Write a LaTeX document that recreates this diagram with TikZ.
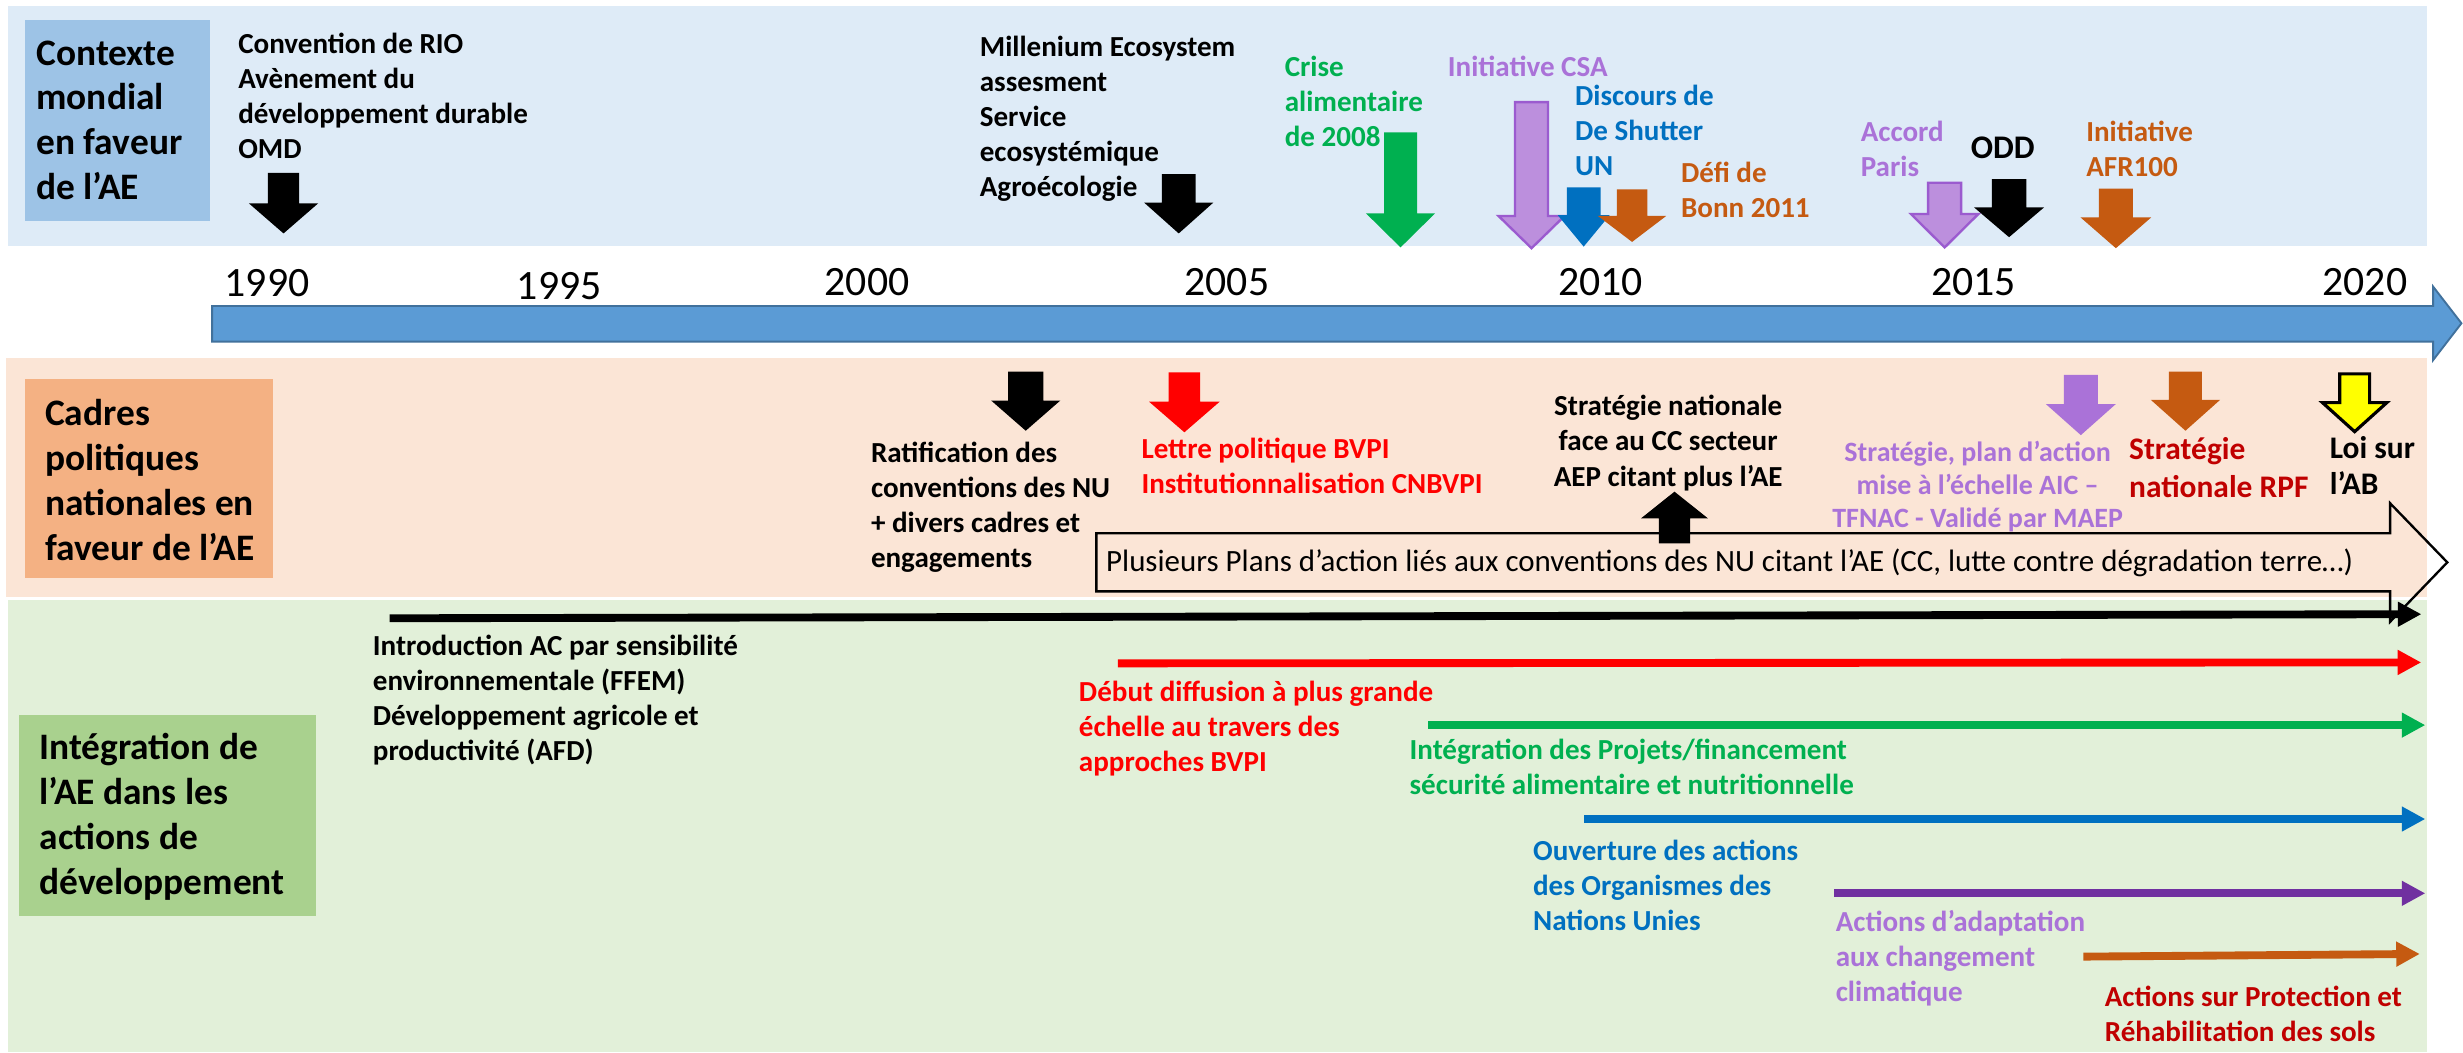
\documentclass[tikz,border=0pt]{standalone}
\usepackage{fontspec}
\setmainfont{Carlito}
\usetikzlibrary{arrows.meta}
\definecolor{bandA}{HTML}{DEEBF7}
\definecolor{bandB}{HTML}{FBE5D6}
\definecolor{bandC}{HTML}{E2F0D9}
\definecolor{boxA}{HTML}{9DC3E6}
\definecolor{boxB}{HTML}{F4B183}
\definecolor{boxC}{HTML}{A9D18E}
\definecolor{tlfill}{HTML}{5B9BD5}
\definecolor{tldraw}{HTML}{41719C}
\definecolor{cgreen}{HTML}{00B050}
\definecolor{clav}{HTML}{AA72D8}
\definecolor{clavfill}{HTML}{BC8FDD}
\definecolor{clavdraw}{HTML}{9B5BCF}
\definecolor{cblue}{HTML}{0070C0}
\definecolor{corange}{HTML}{C55A11}
\definecolor{cred}{HTML}{FF0000}
\definecolor{cdred}{HTML}{C00000}
\definecolor{cpurple}{HTML}{7030A0}
\definecolor{cyellow}{HTML}{FFFF00}
% block arrow: #1 style, #2 centre x, #3 shaft end, #4 shaft half width, #5 shoulder, #6 head half width, #7 tip
\newcommand\blkarrow[7]{\path[#1] ({#2-#4},#3) -- ({#2+#4},#3) -- ({#2+#4},#5) -- ({#2+#6},#5) -- (#2,#7) -- ({#2-#6},#5) -- ({#2-#4},#5) -- cycle;}
\tikzset{
  txt/.style={inner sep=0pt, anchor=west, align=left, font=\bfseries\fontsize{18.5}{22.3}\selectfont},
  ctxt/.style={inner sep=0pt, anchor=center, align=center, font=\bfseries\fontsize{18.5}{22.5}\selectfont},
  lbl/.style={inner sep=0pt, anchor=west, align=left, font=\bfseries\fontsize{23.8}{28.5}\selectfont},
  yr/.style={inner sep=0pt, anchor=center, font=\fontsize{26.6}{30}\selectfont},
  harr/.style={line width=5pt, -{Triangle[length=15pt,width=15pt]}},
}
\begin{document}
\begin{tikzpicture}[x=1pt,y=-1pt]
\useasboundingbox (0,0) rectangle (1568,670);
\fill[white] (0,0) rectangle (1568,670);
% bands
\fill[bandA] (5,3.8) rectangle (1545,156.4);
\fill[bandB] (4,228) rectangle (1545,380);
\fill[bandC] (5,382) rectangle (1545,670);
% label boxes
\fill[boxA] (16,12.7) rectangle (134,140.5);
\fill[boxB] (16,241) rectangle (174,368);
\fill[boxC] (12,455) rectangle (201,583);
\node[lbl] (lA) at (23,76.5) {Contexte\\mondial\\en faveur\\de l’AE};
\node[lbl] (lB) at (28.5,305.5) {Cadres\\politiques\\nationales en\\faveur de l’AE};
\node[lbl] (lC) at (25,520) {Intégration de\\l’AE dans les\\actions de\\développement};
% timeline
\draw[fill=tlfill, draw=tldraw, line width=1.2pt] (135,194.8) -- (1549,194.8) -- (1549,182.5) -- (1567,205.8) -- (1549,229.2) -- (1549,217.5) -- (135,217.5) -- cycle;
\node[yr] (y1990) at (170,180.4) {1990};
\node[yr] (y1995) at (356,182) {1995};
\node[yr] (y2000) at (552,179.8) {2000};
\node[yr] (y2005) at (781,179.8) {2005};
\node[yr] (y2010) at (1019,179.8) {2010};
\node[yr] (y2015) at (1256.5,179.8) {2015};
\node[yr] (y2020) at (1505.5,179.8) {2020};
% top band texts
\node[txt] (rio) at (151.5,61.1) {Convention de RIO\\Avènement du\\développement durable\\OMD};
\node[txt] (mea) at (623.6,75.4) {Millenium Ecosystem\\assesment\\Service\\ecosystémique\\Agroécologie};
\node[txt, text=cgreen] (crise) at (817.7,64.7) {Crise\\alimentaire\\de 2008};
\node[txt, text=clav] (csa) at (921.6,42.5) {Initiative CSA};
\node[txt, text=cblue] (shut) at (1002.5,83.1) {Discours de\\De Shutter\\UN};
\node[txt, text=corange] (bonn) at (1070,121) {Défi de\\Bonn 2011};
\node[txt, text=clav] (paris) at (1184.4,94.9) {Accord\\Paris};
\node[ctxt, font=\bfseries\fontsize{21}{24}\selectfont] (odd) at (1275,94.4) {ODD};
\node[txt, text=corange] (afr) at (1328,94.9) {Initiative\\AFR100};
% top band arrows
\blkarrow{fill=black}{180.5}{110}{10}{129.5}{22}{148.6}
\blkarrow{fill=black}{750.4}{110.8}{10.7}{129}{22}{148.6}
\blkarrow{fill=cgreen}{891.6}{84.3}{10.5}{135.8}{22}{157.5}
\blkarrow{fill=clavfill, draw=clavdraw, line width=1.5pt}{975}{65}{10.5}{137.5}{21}{158}
\blkarrow{fill=cblue}{1008.2}{119.3}{10.7}{137}{16.5}{157}
\blkarrow{fill=corange}{1039}{120.5}{9.7}{137.5}{21.7}{154}
\blkarrow{fill=clavfill, draw=clavdraw, line width=1.5pt}{1238}{116.3}{10.5}{136.2}{21.5}{157.5}
\blkarrow{fill=black}{1279}{114}{11}{132}{22.3}{151}
\blkarrow{fill=corange}{1347}{120}{10.8}{138.4}{22.5}{158}
% middle band
\draw[line width=1.5pt] (698,339.5) -- (1521.6,339.5) -- (1521.6,320.4) -- (1558,358) -- (1521.6,395.8) -- (1521.6,376.5) -- (698,376.5) -- cycle;
\node[inner sep=0pt, anchor=west, font=\fontsize{19.7}{23}\selectfont] (plans) at (704,358.6) {Plusieurs Plans d’action liés aux conventions des NU citant l’AE (CC, lutte contre dégradation terre…)};
\node[txt] (ratif) at (554.3,323.1) {Ratification des\\conventions des NU\\+ divers cadres et\\engagements};
\node[txt, text=cred] (lettre) at (726.5,296.4) {Lettre politique BVPI\\Institutionnalisation CNBVPI};
\node[ctxt] (snat) at (1062,281.9) {Stratégie nationale\\face au CC secteur\\AEP citant plus l’AE};
\node[ctxt, text=clav, font=\bfseries\fontsize{17.8}{21.2}\selectfont] (aic) at (1259,309.8) {Stratégie, plan d’action\\mise à l’échelle AIC –\\TFNAC - Validé par MAEP};
\node[txt, text=cdred, font=\bfseries\fontsize{20}{24.4}\selectfont] (rpf) at (1355.3,297.6) {Stratégie\\nationale RPF};
\node[txt, font=\bfseries\fontsize{20}{23.2}\selectfont] (loi) at (1483,296.4) {Loi sur\\l’AB};
\blkarrow{fill=black}{653}{236.6}{11.2}{255}{22}{274.2}
\blkarrow{fill=cred}{754}{237}{10}{255.7}{22.5}{275.2}
\blkarrow{fill=clav}{1324.7}{238.7}{10.8}{257.2}{22.3}{277}
\blkarrow{fill=corange}{1391.3}{236.6}{10.5}{254.6}{22}{274.2}
\blkarrow{fill=cyellow, draw=black, line width=2pt}{1499}{238}{9.5}{256.3}{20.5}{274.8}
\blkarrow{fill=black}{1066}{345.9}{10}{330}{21.3}{313}
% bottom band
\coordinate (s1) at (248,393.6);   \coordinate (e1) at (1541.5,391);
\coordinate (s2) at (711.6,422.3); \coordinate (e2) at (1541.4,421.7);
\coordinate (s3) at (909.3,461.6); \coordinate (e3) at (1544,461.6);
\coordinate (s4) at (1008.4,521.4);\coordinate (e4) at (1544,521.4);
\coordinate (s5) at (1167.6,568.7);\coordinate (e5) at (1544,568.7);
\coordinate (s6) at (1326.3,609);  \coordinate (e6) at (1540.5,607.3);
\draw[harr, black] (s1) -- (e1);
\draw[harr, cred] (s2) -- (e2);
\draw[harr, cgreen] (s3) -- (e3);
\draw[harr, cblue] (s4) -- (e4);
\draw[harr, cpurple] (s5) -- (e5);
\draw[harr, corange] (s6) -- (e6);
\node[txt] (intro) at (237.2,445.9) {Introduction AC par sensibilité\\environnementale (FFEM)\\Développement agricole et\\productivité (AFD)};
\node[txt, text=cred] (debut) at (686.7,463.7) {Début diffusion à plus grande\\échelle au travers des\\approches BVPI};
\node[txt, text=cgreen] (integ) at (897.2,488) {Intégration des Projets/financement\\sécurité alimentaire et nutritionnelle};
\node[txt, text=cblue] (ouv) at (975.8,563.7) {Ouverture des actions\\des Organismes des\\Nations Unies};
\node[txt, text=clav] (adapt) at (1168.5,609.8) {Actions d’adaptation\\aux changement\\climatique};
\node[txt, text=cdred] (sols) at (1339.8,645.7) {Actions sur Protection et\\Réhabilitation des sols};
\end{tikzpicture}
\end{document}
